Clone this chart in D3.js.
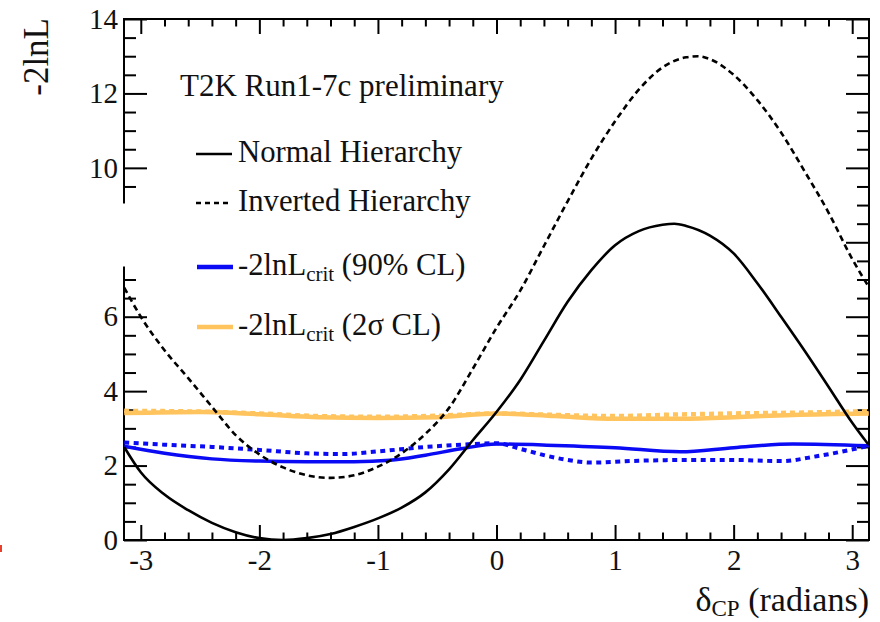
<!DOCTYPE html>
<html><head><meta charset="utf-8">
<script src="https://cdn.jsdelivr.net/npm/d3@7"></script>
<style>
body{margin:0;background:#fff}
svg{display:block}
text{font-family:"Liberation Serif","Times New Roman",serif;fill:#111}
</style>
</head><body>
<svg id="chart" width="880" height="622"></svg>
<script>
// ---- data ----
const nhX = [-3.14,-3.0,-2.8,-2.6,-2.4,-2.2,-2.0,-1.8,-1.6,-1.4,-1.2,-1.0,-0.8,-0.6,-0.4,-0.2,0.0,0.2,0.4,0.6,0.8,1.0,1.2,1.4,1.5,1.6,1.8,2.0,2.2,2.4,2.6,2.8,3.0,3.14];
const nhY = [2.50,1.82,1.22,0.80,0.46,0.21,0.05,0.00,0.05,0.16,0.35,0.58,0.87,1.28,1.90,2.68,3.44,4.30,5.35,6.40,7.25,7.92,8.30,8.47,8.50,8.44,8.18,7.70,6.90,6.00,5.08,4.12,3.15,2.55];

const ihX = [-3.14,-3.0,-2.8,-2.6,-2.4,-2.2,-2.0,-1.8,-1.6,-1.4,-1.2,-1.0,-0.8,-0.6,-0.4,-0.2,0.0,0.2,0.4,0.6,0.8,1.0,1.2,1.4,1.6,1.7,1.8,2.0,2.2,2.4,2.6,2.8,3.0,3.14];
const ihY = [6.78,6.00,5.10,4.35,3.58,2.82,2.30,1.95,1.74,1.67,1.74,1.97,2.33,2.85,3.55,4.60,5.70,6.70,7.90,9.10,10.25,11.25,12.10,12.70,12.97,13.00,12.92,12.50,11.82,10.95,9.90,8.80,7.55,6.80];

const crit90NHX = [-3.14,-2.8,-2.4,-2.0,-1.6,-1.2,-0.9,-0.6,-0.3,0.0,0.5,1.0,1.55,2.0,2.5,3.14];
const crit90NHY = [2.52,2.33,2.18,2.12,2.10,2.10,2.14,2.28,2.45,2.58,2.54,2.48,2.37,2.48,2.58,2.53];

const crit90IHX = [-3.14,-2.8,-2.4,-2.0,-1.6,-1.3,-1.0,-0.6,-0.3,0.0,0.2,0.4,0.6,0.8,1.2,1.6,2.0,2.4,2.7,3.14];
const crit90IHY = [2.62,2.56,2.50,2.42,2.33,2.31,2.38,2.50,2.56,2.60,2.45,2.28,2.15,2.08,2.13,2.15,2.15,2.12,2.25,2.53];

const crit2sNHX = [-3.14,-2.5,-2.0,-1.5,-1.0,-0.5,0.0,0.5,1.0,1.5,2.0,2.5,3.14];
const crit2sNHY = [3.41,3.44,3.38,3.30,3.28,3.30,3.40,3.33,3.26,3.26,3.30,3.36,3.40];

const crit2sIHX = [-3.14,-2.5,-2.0,-1.5,-1.0,-0.5,0.0,0.5,1.0,1.5,2.0,2.5,3.14];
const crit2sIHY = [3.47,3.45,3.40,3.33,3.31,3.34,3.40,3.36,3.33,3.37,3.40,3.42,3.46];

const xTickValues = [-3,-2,-1,0,1,2,3];
const yTickValues = [0,2,4,6,8,10,12,14];
const legendTitle = "T2K Run1-7c preliminary";
const legendNH = "Normal Hierarchy";
const legendIH = "Inverted Hierarchy";

// ---- layout ----
const L = 124, R = 869, T = 19, B = 540;
const svg = d3.select("#chart");
const x = d3.scaleLinear().domain([-Math.PI, Math.PI]).range([L, R]);
const y = d3.scaleLinear().domain([0, 14]).range([B, T]);

const xMinor = d3.range(-15, 16).filter(k => k % 5 !== 0).map(k => k * 0.2);
const yMinor = d3.range(1, 28).filter(k => k % 4 !== 0).map(k => k * 0.5);
const fmt = d => String(d);

svg.append("defs").append("clipPath").attr("id", "clip")
  .append("rect").attr("x", L).attr("y", T).attr("width", R - L).attr("height", B - T);

function styleAxis(g) {
  g.select(".domain").remove();
  g.selectAll("line").attr("stroke", "#000").attr("stroke-width", 2);
  g.selectAll("text").attr("font-size", 29).attr("fill", "#111")
    .attr("font-family", '"Liberation Serif","Times New Roman",serif');
}

// bottom
svg.append("g").attr("transform", `translate(0,${B})`)
  .call(d3.axisBottom(x).tickValues(xTickValues).tickSizeInner(-15).tickSizeOuter(0).tickPadding(9).tickFormat(fmt))
  .call(styleAxis);
svg.append("g").attr("transform", `translate(0,${B})`)
  .call(d3.axisBottom(x).tickValues(xMinor).tickSizeInner(-7.5).tickSizeOuter(0).tickFormat(""))
  .call(styleAxis);
// top
svg.append("g").attr("transform", `translate(0,${T})`)
  .call(d3.axisTop(x).tickValues(xTickValues).tickSizeInner(-15).tickSizeOuter(0).tickFormat(""))
  .call(styleAxis);
svg.append("g").attr("transform", `translate(0,${T})`)
  .call(d3.axisTop(x).tickValues(xMinor).tickSizeInner(-7.5).tickSizeOuter(0).tickFormat(""))
  .call(styleAxis);
// left
svg.append("g").attr("transform", `translate(${L},0)`)
  .call(d3.axisLeft(y).tickValues(yTickValues).tickSizeInner(-23).tickSizeOuter(0).tickPadding(6).tickFormat(fmt))
  .call(styleAxis);
svg.append("g").attr("transform", `translate(${L},0)`)
  .call(d3.axisLeft(y).tickValues(yMinor).tickSizeInner(-12).tickSizeOuter(0).tickFormat(""))
  .call(styleAxis);
// right
svg.append("g").attr("transform", `translate(${R},0)`)
  .call(d3.axisRight(y).tickValues(yTickValues).tickSizeInner(-23).tickSizeOuter(0).tickFormat(""))
  .call(styleAxis);
svg.append("g").attr("transform", `translate(${R},0)`)
  .call(d3.axisRight(y).tickValues(yMinor).tickSizeInner(-12).tickSizeOuter(0).tickFormat(""))
  .call(styleAxis);

// frame
svg.append("rect").attr("x", L).attr("y", T).attr("width", R - L).attr("height", B - T)
  .attr("fill", "none").attr("stroke", "#000").attr("stroke-width", 2);

// curves
const plot = svg.append("g").attr("clip-path", "url(#clip)");
function drawSeries(xs, ys, color, width, dash) {
  const pts = xs.map((v, i) => [v, ys[i]]);
  const line = d3.line().x(d => x(d[0])).y(d => y(d[1])).curve(d3.curveMonotoneX);
  const p = plot.append("path").datum(pts).attr("d", line)
    .attr("fill", "none").attr("stroke", color).attr("stroke-width", width);
  if (dash) p.attr("stroke-dasharray", dash);
}
const ORANGE = "#ffc45e", BLUE = "#0a0af5";
drawSeries(crit2sIHX, crit2sIHY, ORANGE, 4.5, "5,4");
drawSeries(crit2sNHX, crit2sNHY, ORANGE, 4.5, null);
drawSeries(crit90IHX, crit90IHY, BLUE, 4, "5,4.5");
drawSeries(crit90NHX, crit90NHY, BLUE, 3.5, null);
drawSeries(ihX, ihY, "#000", 2.6, "6,4");
drawSeries(nhX, nhY, "#000", 2.6, null);

// legend (white box covering part of the left axis)
svg.append("rect").attr("x", 100).attr("y", 203.5).attr("width", 90).attr("height", 63)
  .attr("fill", "#fff");

svg.append("text").attr("x", 180).attr("y", 96).attr("font-size", 31).text(legendTitle);

svg.append("line").attr("x1", 196).attr("x2", 232).attr("y1", 154).attr("y2", 154)
  .attr("stroke", "#000").attr("stroke-width", 2.5);
svg.append("text").attr("x", 238).attr("y", 162).attr("font-size", 30.7).text(legendNH);

svg.append("line").attr("x1", 196).attr("x2", 232).attr("y1", 203).attr("y2", 203)
  .attr("stroke", "#000").attr("stroke-width", 2.5).attr("stroke-dasharray", "5,4");
svg.append("text").attr("x", 238).attr("y", 211).attr("font-size", 30.7).text(legendIH);

function critLabel(yb, cl, color, lineY) {
  svg.append("line").attr("x1", 197).attr("x2", 233).attr("y1", lineY).attr("y2", lineY)
    .attr("stroke", color).attr("stroke-width", 4.5);
  const t = svg.append("text").attr("x", 238).attr("y", yb).attr("font-size", 30.7);
  t.append("tspan").text("-2lnL");
  t.append("tspan").attr("font-size", 21).attr("dy", 6).text("crit");
  t.append("tspan").attr("dy", -6).text(" (" + cl + " CL)");
}
critLabel(275, "90%", BLUE, 267);
critLabel(335, "2σ", ORANGE, 327);

// axis titles
const xt = svg.append("text").attr("x", R).attr("y", 611).attr("text-anchor", "end").attr("font-size", 34);
xt.append("tspan").text("δ");
xt.append("tspan").attr("font-size", 23).attr("dy", 5).text("CP");
xt.append("tspan").attr("dy", -5).text(" (radians)");

svg.append("text").attr("transform", "translate(48,18) rotate(-90)")
  .attr("text-anchor", "end").attr("font-size", 35).text("-2lnL");

// small red mark at left edge
svg.append("rect").attr("x", 0).attr("y", 545).attr("width", 2).attr("height", 7).attr("fill", "#e8402a");
</script>
</body></html>
